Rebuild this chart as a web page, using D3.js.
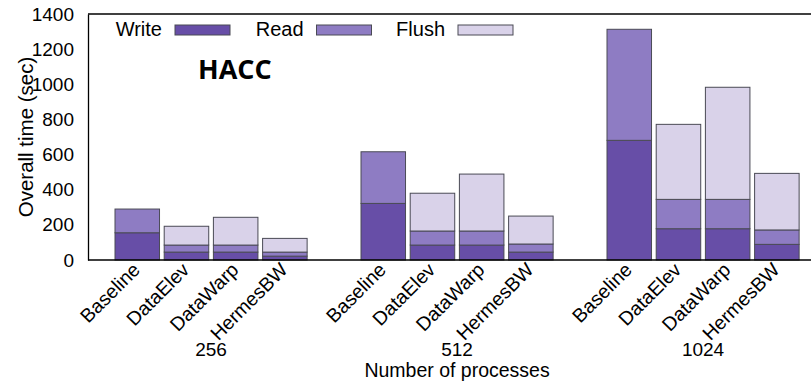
<!DOCTYPE html>
<html>
<head>
<meta charset="utf-8">
<script src="https://cdn.jsdelivr.net/npm/d3@7"></script>
<style>
  html, body { margin: 0; padding: 0; background: #fff; }
  svg { display: block; }
  text { font-family: "Liberation Sans", Arial, sans-serif; fill: #000; }
</style>
</head>
<body>
<svg id="chart" width="811" height="381"></svg>
<script>
// ---- data ----
const groups = ["256", "512", "1024"];
const methods = ["Baseline", "DataElev", "DataWarp", "HermesBW"];
const seriesNames = ["Write", "Read", "Flush"];
const writeVals = [155, 45, 45, 22,   322, 85, 85, 45,   681, 178, 178, 89];
const readVals  = [135, 40, 40, 23,   294, 80, 80, 46,   632, 167, 167, 82];
const flushVals = [0, 107, 158, 78,   0, 215, 324, 159,  0, 427, 638, 322];
const yTicks = [0, 200, 400, 600, 800, 1000, 1200, 1400];
const colors = ["#674ea7", "#8e7cc3", "#d9d2e9"];

// ---- layout ----
const svg = d3.select("#chart");
const plotLeft = 88, plotTop = 14, plotBottom = 260, plotRight = 811;
const slot = 49.2, pad = 0.095;

const y = d3.scaleLinear().domain([0, 1400]).range([plotBottom, plotTop]);
const x0 = d3.scaleBand().domain(groups).range([115, 115 + 15 * slot]).padding(0);
const x1 = d3.scaleBand().domain(methods).range([0, slot * (4 - pad)]).paddingInner(pad).paddingOuter(0);

const rows = [];
groups.forEach((g, gi) => methods.forEach((m, mi) => {
  const k = gi * 4 + mi;
  rows.push({ group: g, method: m, Write: writeVals[k], Read: readVals[k], Flush: flushVals[k] });
}));
const stacked = d3.stack().keys(seriesNames)(rows);

// bars
stacked.forEach((layer, li) => {
  svg.append("g").selectAll("rect").data(layer).join("rect")
    .attr("x", d => x0(d.data.group) + x1(d.data.method))
    .attr("width", x1.bandwidth())
    .attr("y", d => y(d[1]))
    .attr("height", d => Math.max(0, y(d[0]) - y(d[1])))
    .attr("fill", colors[li])
    .attr("stroke", "#4a4a55")
    .attr("stroke-width", 1)
    .attr("display", d => (d[1] - d[0]) > 0 ? null : "none");
});

// frame: top line, bottom axis
svg.append("line").attr("x1", plotLeft).attr("x2", plotRight).attr("y1", plotTop).attr("y2", plotTop)
  .attr("stroke", "#000").attr("stroke-width", 1.3);
svg.append("line").attr("x1", plotLeft).attr("x2", plotRight).attr("y1", plotBottom).attr("y2", plotBottom)
  .attr("stroke", "#000").attr("stroke-width", 1.3);

const yAxis = svg.append("g").attr("transform", `translate(${plotLeft},0)`)
  .call(d3.axisLeft(y).tickValues(yTicks).tickFormat(d3.format("d"))
    .tickSize(0).tickSizeOuter(0).tickPadding(14));
yAxis.select(".domain").attr("stroke", "#000").attr("stroke-width", 1.3);
yAxis.selectAll("text").style("font-size", "19px")
  .style("font-family", '"Liberation Sans", Arial, sans-serif').attr("fill", "#000");

// x labels (rotated)
svg.append("g").selectAll("text").data(rows).join("text")
  .attr("transform", d => `translate(${x0(d.group) + x1(d.method) + x1.bandwidth() / 2 + 4},271) rotate(-45)`)
  .attr("text-anchor", "end")
  .style("font-size", "19.5px")
  .text(d => d.method);

// group labels
svg.append("g").selectAll("text").data(groups).join("text")
  .attr("x", g => x0(g) + (x1(methods[3]) + x1.bandwidth()) / 2)
  .attr("y", 356)
  .attr("text-anchor", "middle")
  .style("font-size", "19px")
  .text(g => g);

// axis titles
svg.append("text")
  .attr("x", x0(groups[1]) + (x1(methods[3]) + x1.bandwidth()) / 2)
  .attr("y", 377)
  .attr("text-anchor", "middle")
  .style("font-size", "19.5px")
  .text("Number of processes");

svg.append("text")
  .attr("transform", `translate(33,${(plotTop + plotBottom) / 2}) rotate(-90)`)
  .attr("text-anchor", "middle")
  .style("font-size", "20.5px")
  .text("Overall time (sec)");

// title
svg.append("text")
  .attr("x", 198).attr("y", 79)
  .style("font-family", '"Open Sans", "Noto Sans", sans-serif')
  .style("font-weight", "bold")
  .style("font-size", "27px")
  .text("HACC");

// legend
const legend = svg.append("g").selectAll("g").data(seriesNames).join("g")
  .attr("transform", (d, i) => `translate(${175 + i * 141.5},0)`);
legend.append("text").attr("x", -13).attr("y", 36).attr("text-anchor", "end")
  .style("font-size", "20px").text(d => d);
legend.append("rect").attr("x", 0).attr("y", 25).attr("width", 55).attr("height", 10)
  .attr("fill", (d, i) => colors[i]).attr("stroke", "#4a4a55").attr("stroke-width", 1);
</script>
</body>
</html>
